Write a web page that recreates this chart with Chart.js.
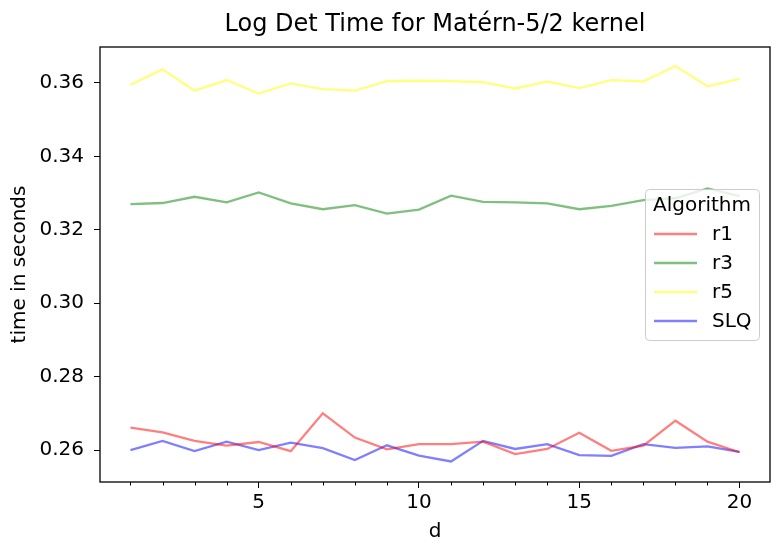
<!DOCTYPE html>
<html>
<head>
<meta charset="utf-8">
<script src="https://cdn.jsdelivr.net/npm/chart.js@4"></script>
<style>
  body { margin: 0; background: #fff; }
  #wrap { width: 783px; height: 556px; }
</style>
</head>
<body>
<div id="wrap"><canvas id="myChart" width="783" height="556"></canvas></div>
<script>
// data
const dims = [1, 2, 3, 4, 5, 6, 7, 8, 9, 10, 11, 12, 13, 14, 15, 16, 17, 18, 19, 20];
const r1 = [0.2661, 0.2648, 0.2625, 0.2612, 0.2622, 0.2597, 0.2700, 0.2634, 0.2602, 0.2616,
            0.2616, 0.2623, 0.2589, 0.2603, 0.2647, 0.2598, 0.2612, 0.2680, 0.2623, 0.2594];
const r3 = [0.3270, 0.3273, 0.3290, 0.3275, 0.3302, 0.3272, 0.3256, 0.3267, 0.3244, 0.3255,
            0.3293, 0.3276, 0.3275, 0.3272, 0.3256, 0.3265, 0.3281, 0.3286, 0.3313, 0.3292];
const r5 = [0.3595, 0.3637, 0.3579, 0.3608, 0.3571, 0.3599, 0.3583, 0.3579, 0.3605, 0.3606,
            0.3605, 0.3602, 0.3585, 0.3604, 0.3586, 0.3608, 0.3604, 0.3646, 0.3591, 0.3611];
const slq = [0.2600, 0.2625, 0.2597, 0.2623, 0.2600, 0.2620, 0.2605, 0.2573, 0.2613, 0.2585,
             0.2569, 0.2625, 0.2603, 0.2616, 0.2586, 0.2584, 0.2616, 0.2606, 0.2610, 0.2595];
const yTicks = [0.26, 0.28, 0.30, 0.32, 0.34, 0.36];
const xLabeled = [5, 10, 15, 20];

const FONT = "'DejaVu Sans', sans-serif";

function toXY(vals) {
    return vals.map((v, i) => ({ x: dims[i], y: v }));
}

// frame, minor ticks, legend box, title centred over the plot
const extras = {
    id: 'extras',
    afterLayout(chart) {
        const a = chart.chartArea;
        if (chart.titleBlock) {
            chart.titleBlock.left = a.left;
            chart.titleBlock.right = a.right;
            chart.titleBlock.width = a.right - a.left;
        }
    },
    afterDraw(chart) {
        const ctx = chart.ctx;
        const a = chart.chartArea;
        const xs = chart.scales.x;
        ctx.save();
        ctx.strokeStyle = '#000';
        ctx.lineWidth = 1.3;
        ctx.strokeRect(a.left, a.top, a.right - a.left, a.bottom - a.top);
        ctx.lineWidth = 1;
        dims.forEach(d => {
            if (xLabeled.includes(d)) return;
            const px = Math.round(xs.getPixelForValue(d)) + 0.5;
            ctx.beginPath();
            ctx.moveTo(px, a.bottom);
            ctx.lineTo(px, a.bottom + 3.5);
            ctx.stroke();
        });
        ctx.restore();
    },
    afterDatasetsDraw(chart) {
        const ctx = chart.ctx;
        const bx = 645, by = 189, bw = 114, bh = 151, r = 4;
        ctx.save();
        ctx.beginPath();
        ctx.roundRect(bx + 0.5, by + 0.5, bw, bh, r);
        ctx.fillStyle = 'rgba(255,255,255,0.8)';
        ctx.fill();
        ctx.strokeStyle = '#cccccc';
        ctx.lineWidth = 1;
        ctx.stroke();
        ctx.fillStyle = '#000';
        ctx.font = '20px ' + FONT;
        ctx.textBaseline = 'middle';
        ctx.textAlign = 'center';
        ctx.fillText('Algorithm', bx + bw / 2, 206);
        ctx.textAlign = 'left';
        chart.data.datasets.forEach((ds, i) => {
            const y = 234 + 29 * i;
            ctx.strokeStyle = ds.borderColor;
            ctx.lineWidth = 2.3;
            ctx.beginPath();
            ctx.moveTo(654, y);
            ctx.lineTo(697, y);
            ctx.stroke();
            ctx.fillStyle = '#000';
            ctx.fillText(ds.label, 712, y + 1);
        });
        ctx.restore();
    }
};

const ctx = document.getElementById('myChart').getContext('2d');
const myChart = new Chart(ctx, {
    type: 'line',
    data: {
        datasets: [
            { label: 'r1', data: toXY(r1), borderColor: 'rgba(255, 0, 0, 0.5)' },
            { label: 'r3', data: toXY(r3), borderColor: 'rgba(0, 128, 0, 0.5)' },
            { label: 'r5', data: toXY(r5), borderColor: 'rgba(255, 255, 0, 0.5)' },
            { label: 'SLQ', data: toXY(slq), borderColor: 'rgba(0, 0, 255, 0.5)' }
        ]
    },
    options: {
        responsive: false,
        animation: false,
        devicePixelRatio: 1,
        layout: { padding: { left: 0, right: 13, top: 0, bottom: 0 } },
        elements: {
            line: { borderWidth: 2.3, tension: 0, fill: false },
            point: { radius: 0, hoverRadius: 0 }
        },
        plugins: {
            legend: { display: false },
            tooltip: { enabled: false },
            title: {
                display: true,
                text: 'Log Det Time for Matérn-5/2 kernel',
                color: '#000',
                font: { family: FONT, size: 24, weight: 'normal', lineHeight: 1.2 },
                padding: { top: 10, bottom: 8.2 }
            }
        },
        scales: {
            x: {
                type: 'linear',
                min: 0.05,
                max: 20.95,
                afterBuildTicks: s => { s.ticks = xLabeled.map(v => ({ value: v })); },
                afterFit: s => { s.height = 74; },
                grid: { drawOnChartArea: false, tickLength: 6, tickColor: '#000', tickWidth: 1 },
                border: { display: false },
                ticks: {
                    color: '#000',
                    padding: 3,
                    maxRotation: 0,
                    font: { family: FONT, size: 20 },
                    callback: v => String(v)
                },
                title: {
                    display: true,
                    text: 'd',
                    color: '#000',
                    font: { family: FONT, size: 20 },
                    padding: { top: 0, bottom: 12 }
                }
            },
            y: {
                min: 0.2513,
                max: 0.3698,
                afterBuildTicks: s => { s.ticks = yTicks.map(v => ({ value: v })); },
                afterFit: s => { s.width = 100; },
                grid: { drawOnChartArea: false, tickLength: 6, tickColor: '#000', tickWidth: 1 },
                border: { display: false },
                ticks: {
                    color: '#000',
                    padding: 10,
                    font: { family: FONT, size: 20 },
                    callback: v => v.toFixed(2)
                },
                title: {
                    display: true,
                    text: 'time in seconds',
                    color: '#000',
                    font: { family: FONT, size: 20 },
                    padding: { top: 8, bottom: 0 }
                }
            }
        }
    },
    plugins: [extras]
});
</script>
</body>
</html>
